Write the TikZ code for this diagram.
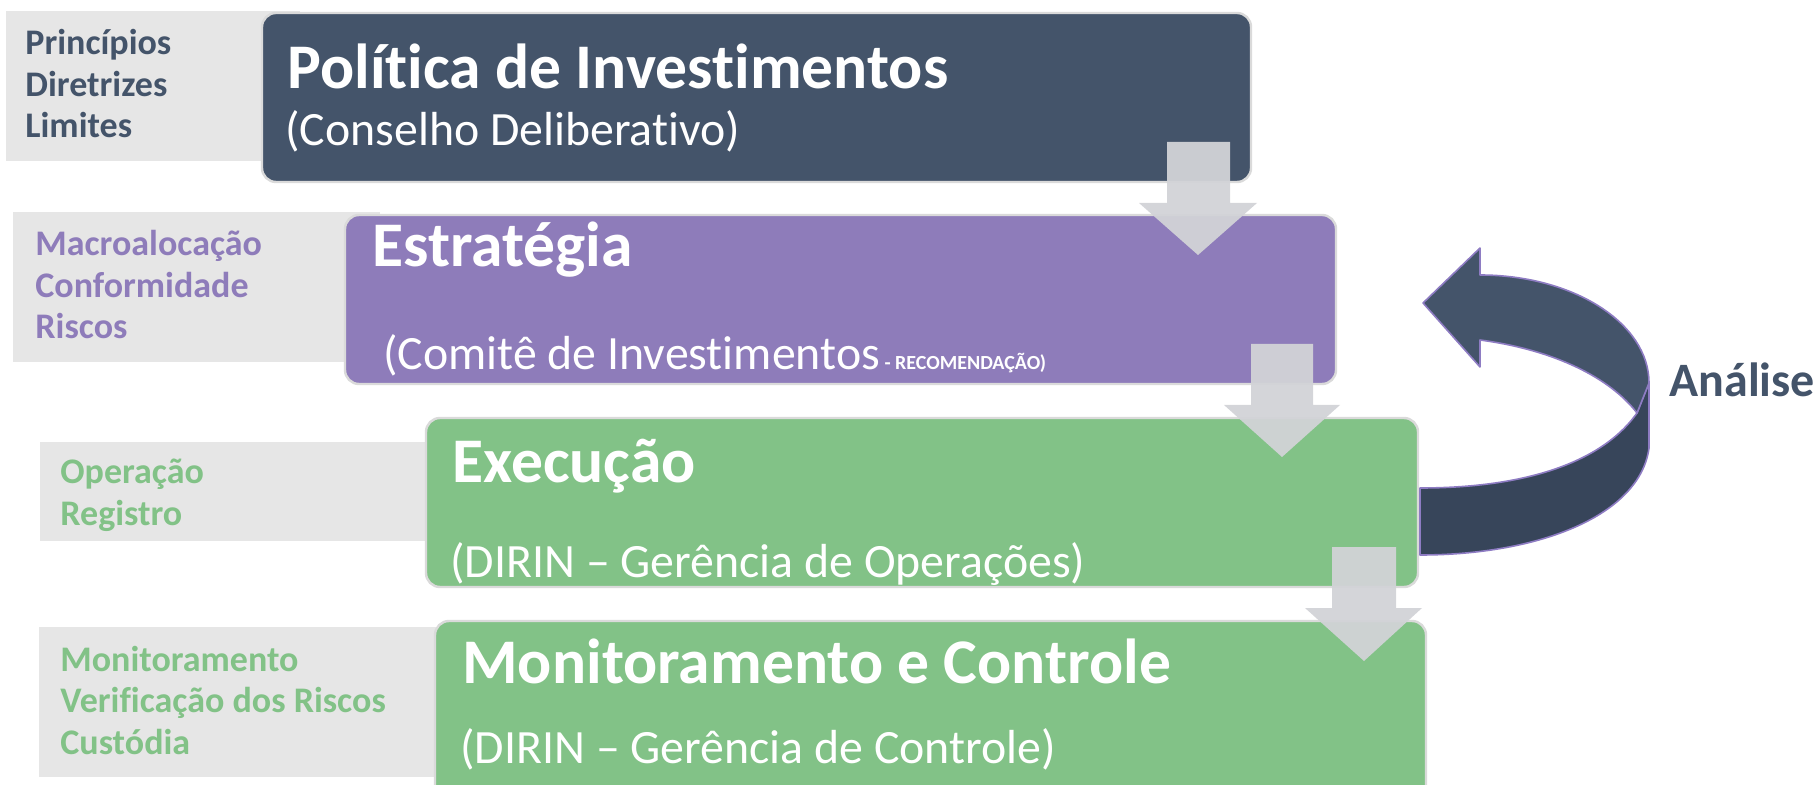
\documentclass[tikz,border=0pt]{standalone}
\usepackage{fontspec}
\setmainfont{Carlito}[Ligatures={TeX,NoCommon}]

\definecolor{corPolitica}{HTML}{44546A}
\definecolor{corEstrategia}{HTML}{8E7CBA}
\definecolor{corExecucao}{HTML}{82C287}
\definecolor{corRotulo}{HTML}{E6E6E6}
\definecolor{corSeta}{HTML}{D2D3D7}
\definecolor{corLaco}{HTML}{37455A}
\definecolor{corBorda}{HTML}{DADADA}
\definecolor{corContorno}{HTML}{8E7CC3}

\tikzset{
  etapa/.style={rounded corners=7pt, draw=corBorda, line width=1.2pt},
  faixa/.style={fill=corRotulo},
  seta/.style={fill=corSeta, fill opacity=0.95},
  laco/.style={draw=corContorno, line width=0.8pt, line join=round},
  titulo/.style={anchor=base west, inner sep=0pt, text=white,
    font=\bfseries\fontsize{31.8}{36}\selectfont},
  orgao/.style={anchor=base west, inner sep=0pt, text=white,
    font=\fontsize{23.9}{28}\selectfont},
  lista/.style={anchor=base west, inner sep=0pt, align=left,
    font=\bfseries\fontsize{18}{20.75}\selectfont},
}

\begin{document}
\begin{tikzpicture}[x=0.5pt, y=-0.5pt]
  \useasboundingbox (0,0) rectangle (1818,785);
  \clip (0,0) rectangle (1818,785);

  % Coordinates
  \coordinate (tailTop) at (1420,488);
  \coordinate (tailBot) at (1420,555);
  \coordinate (dobraA) at (1649,383);
  \coordinate (dobraB) at (1637,413);
  \coordinate (dobraC) at (1649,448);
  \coordinate (headTop) at (1480,248);
  \coordinate (headBot) at (1480,367);
  \coordinate (headTip) at (1423,303);

  % Drawing
  \fill[faixa] (6,11) rectangle (300,161);
  \fill[faixa] (13,212) rectangle (380,362);
  \fill[faixa] (40,442) rectangle (460,541);
  \fill[faixa] (39,627) rectangle (470,777);

  \draw[etapa, fill=corPolitica] (262,13) rectangle (1251,182);
  \draw[etapa, fill=corEstrategia] (345,215) rectangle (1336,384);
  \draw[etapa, fill=corExecucao] (426,418) rectangle (1418,587);
  \draw[etapa, fill=corExecucao] (435,621) rectangle (1426,830);

  % base of a list = its last line
  \node[lista, text=corPolitica] (principios) at (25,138)
    {Princípios\\Diretrizes\\Limites};
  \node[lista, text=corEstrategia] (macro) at (35,339)
    {Macroalocação\\Conformidade\\Riscos};
  \node[lista, text=corExecucao] (operacao) at (60,525)
    {Operação\\Registro};
  \node[lista, text=corExecucao] (monitor) at (60,754)
    {Monitoramento\\Verificação dos Riscos\\Custódia};

  \node[titulo] (politica) at (287,89) {Política de Investimentos};
  \node[orgao] (conselho) at (285,146) {(Conselho Deliberativo)};
  \node[titulo] (estrategia) at (372,267) {Estratégia};
  \node[orgao] (comite) at (383,370)
    {(Comitê de Investimentos{\bfseries\fontsize{10}{12}\selectfont\ - RECOMENDAÇÃO)}};
  \node[titulo] (execucao) at (452,482) {Execução};
  \node[orgao] (operacoes) at (450,577) {(DIRIN – Gerência de Operações)};
  \node[titulo] (monitoramento) at (462,683) {Monitoramento e Controle};
  \node[orgao] (controle) at (460,763) {(DIRIN – Gerência de Controle)};

  % down arrows
  \fill[seta] (1167,142) -- (1230,142) -- (1230,203) -- (1257,203)
    -- (1198,255) -- (1139,203) -- (1167,203) -- cycle;
  \fill[seta] (1251,344) -- (1313,344) -- (1313,405) -- (1340,405)
    -- (1282,457) -- (1224,405) -- (1251,405) -- cycle;
  \fill[seta] (1332,547) -- (1396,547) -- (1396,608) -- (1422,608)
    -- (1364,661) -- (1305,608) -- (1332,608) -- cycle;

  % loop back
  \filldraw[laco, fill=corLaco] (tailTop)
    .. controls (1520,488) and (1600,465) .. (dobraB) -- (dobraA) -- (dobraC)
    .. controls (1640,515) and (1540,555) .. (tailBot) -- cycle;
  \filldraw[laco, fill=corPolitica] (headTop) -- (1480,275)
    .. controls (1573,275) and (1649,323) .. (dobraA) -- (dobraB)
    .. controls (1610,378) and (1555,350) .. (1480,340) -- (headBot)
    -- (headTip) -- cycle;

  \node[anchor=base west, inner sep=0pt, text=corPolitica,
    font=\bfseries\fontsize{24}{28}\selectfont] (analise) at (1669,397) {Análise};
\end{tikzpicture}
\end{document}
